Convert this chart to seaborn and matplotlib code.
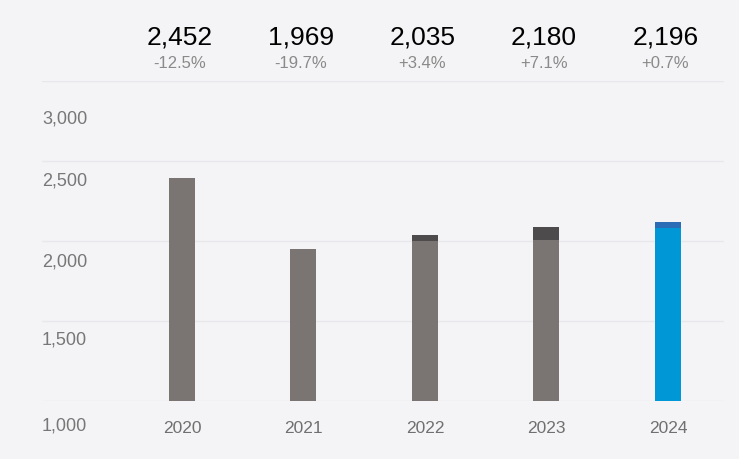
import matplotlib
matplotlib.use("Agg")
import matplotlib.pyplot as plt
import matplotlib.transforms as mtransforms
import seaborn as sns
import pandas as pd

# ---- data ----
years = ["2020", "2021", "2022", "2023", "2024"]
base_values = [2394, 1950, 2000, 2006, 2081]     # lower segment
top_values = [0, 0, 37, 82, 38]                    # upper (dark) segment
header_values = ["2,452", "1,969", "2,035", "2,180", "2,196"]
header_changes = ["-12.5%", "-19.7%", "+3.4%", "+7.1%", "+0.7%"]
ytick_values = [1000, 1500, 2000, 2500, 3000]
ytick_labels = ["1,000", "1,500", "2,000", "2,500", "3,000"]

totals = [b + t for b, t in zip(base_values, top_values)]
df = pd.DataFrame({"year": years, "base": base_values, "total": totals})

BG = "#f4f4f6"
base_colors = {"2020": "#7a7573", "2021": "#7a7573", "2022": "#7a7573",
               "2023": "#7a7573", "2024": "#0097d7"}
top_colors = {"2020": "#4d4b4c", "2021": "#4d4b4c", "2022": "#4d4b4c",
              "2023": "#4d4b4c", "2024": "#2b6cb6"}

sns.set_theme(style="white")
plt.rcParams["font.family"] = ["Liberation Sans", "DejaVu Sans"]

fig = plt.figure(figsize=(7.39, 4.60), dpi=100, facecolor=BG)
ax = fig.add_axes([0.0568, 0.1261, 0.9229, 0.6957])
ax.set_facecolor(BG)

bw = 0.214
sns.barplot(data=df, x="year", y="total", hue="year", palette=top_colors,
            order=years, hue_order=years, width=bw, legend=False, ax=ax,
            saturation=1, linewidth=0, zorder=3)
sns.barplot(data=df, x="year", y="base", hue="year", palette=base_colors,
            order=years, hue_order=years, width=bw, legend=False, ax=ax,
            saturation=1, linewidth=0, zorder=4)

ax.set_ylim(1000, 3000)
ax.set_xlim(-1.152, 4.461)
ax.set_yticks(ytick_values)
ax.set_yticklabels([])
ax.tick_params(axis="y", length=0)
ax.grid(axis="y", color="#e8e8ec", linewidth=1.0, zorder=0)
ax.grid(axis="x", visible=False)
for s in ax.spines.values():
    s.set_visible(False)
ax.set_xlabel("")
ax.set_ylabel("")

# x tick labels
ax.tick_params(axis="x", length=0, pad=14, labelsize=12.5, labelcolor="#707070")

# y labels, placed below their gridlines
offsets_px = [-24, -18, -20, -19, -37]
for v, lab, off in zip(ytick_values, ytick_labels, offsets_px):
    tr = ax.get_yaxis_transform() + mtransforms.ScaledTranslation(0, off / 100, fig.dpi_scale_trans)
    ax.text(0, v, lab, transform=tr, ha="left", va="center",
            fontsize=13, color="#777777", clip_on=False)

# headers
xt = ax.get_xaxis_transform()
for i, (hv, hc) in enumerate(zip(header_values, header_changes)):
    ax.text(i - 0.02, 1.1375, hv, transform=xt, ha="center", va="center",
            fontsize=19, color="#000000", clip_on=False)
    ax.text(i - 0.02, 1.059, hc, transform=xt, ha="center", va="center",
            fontsize=12, color="#8a8a8a", clip_on=False)

fig.savefig("out.png", dpi=100, facecolor=BG)
